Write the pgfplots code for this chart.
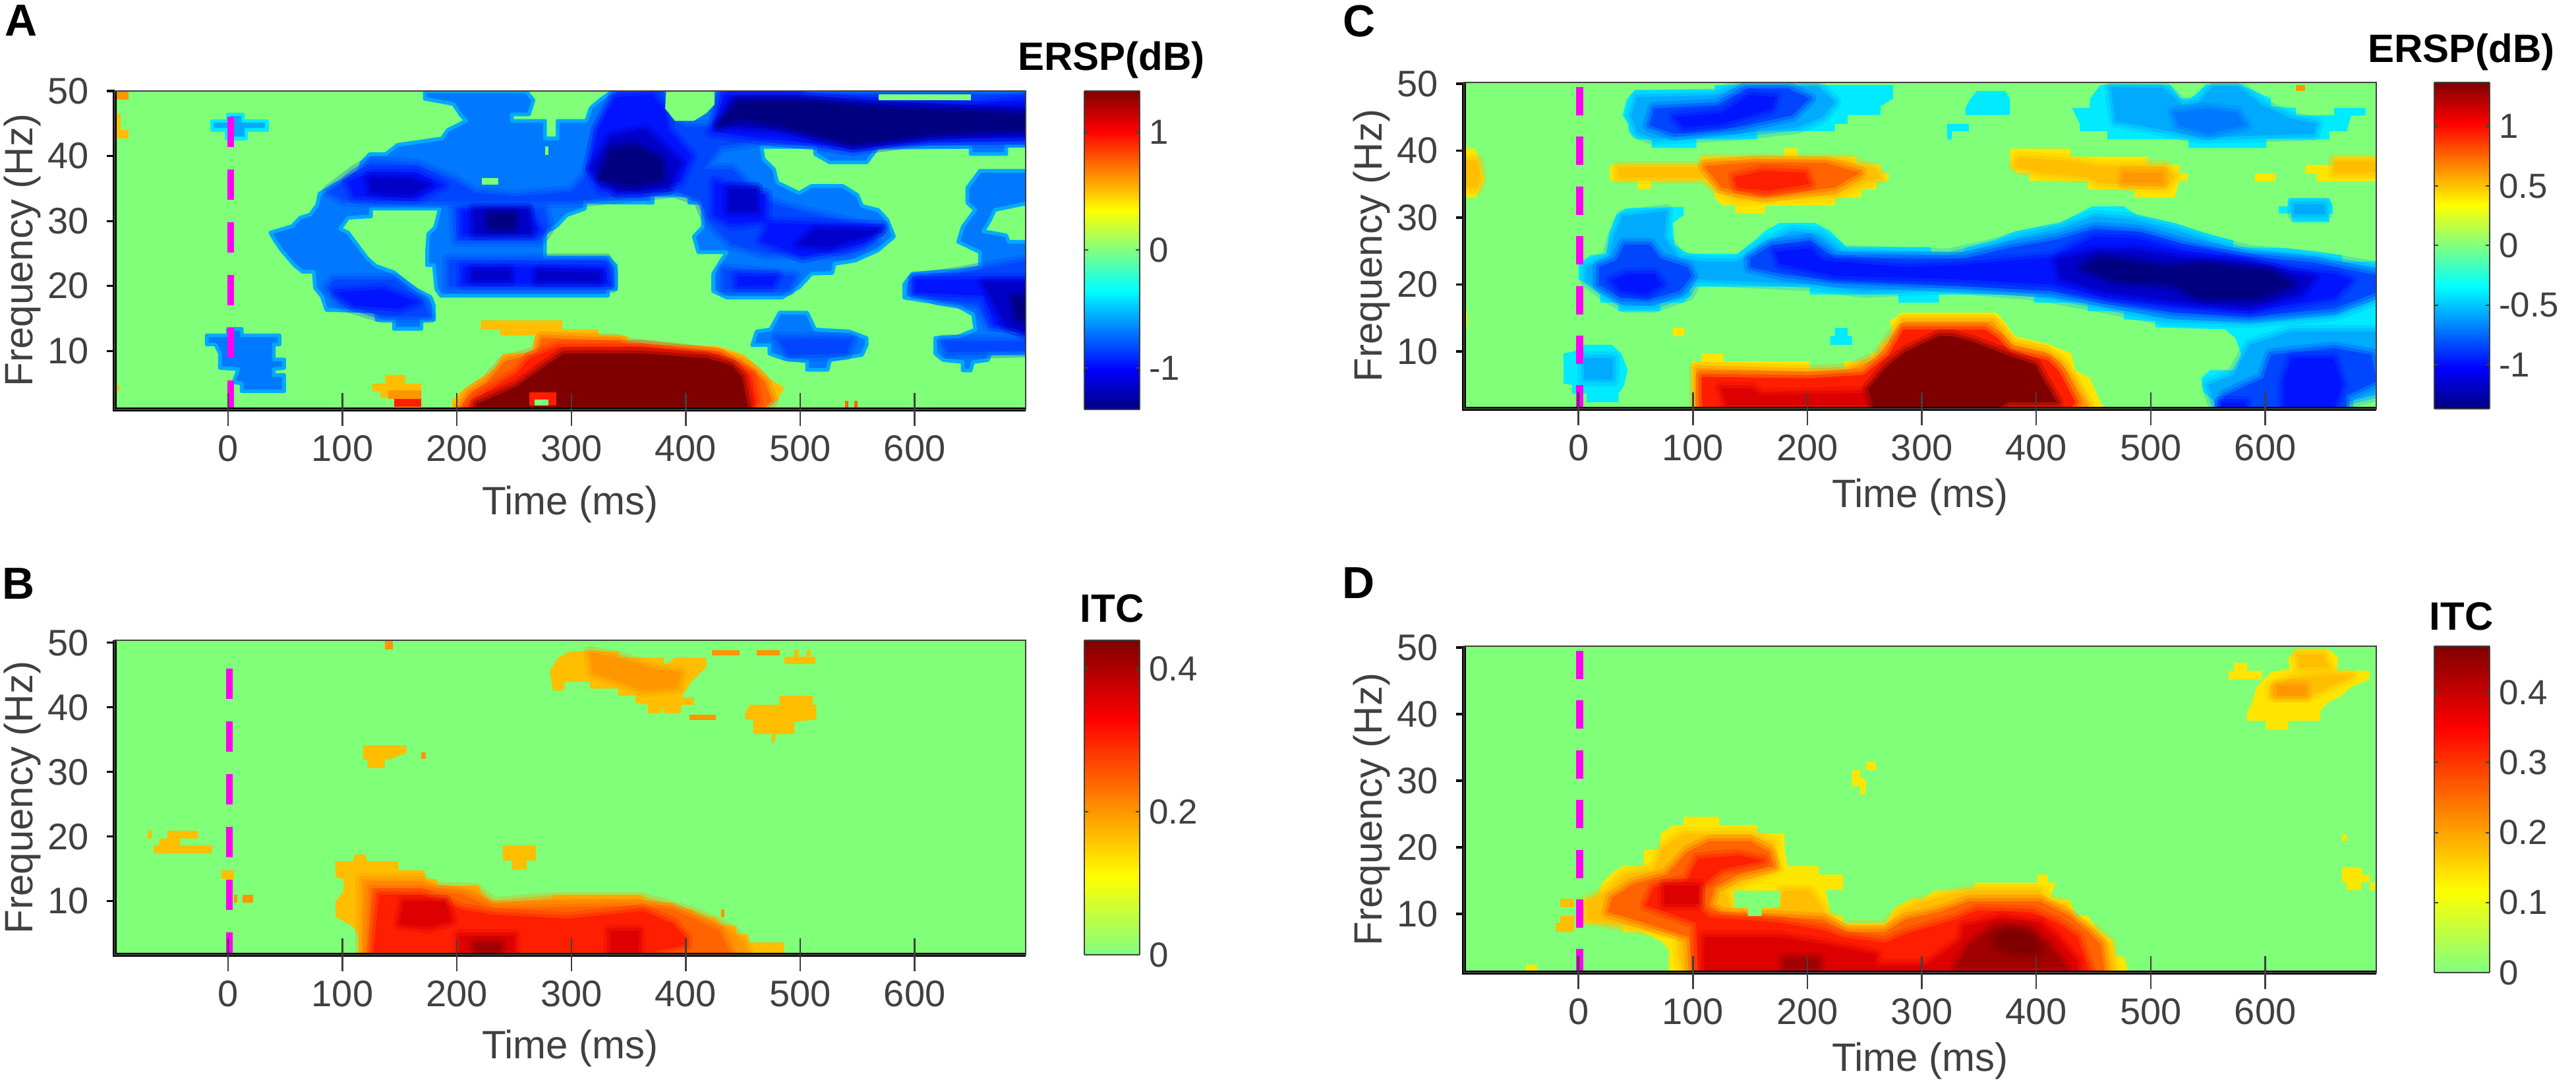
\documentclass[border=0pt]{standalone}
\usepackage{fontspec}
\setmainfont{Liberation Sans}
\usepackage{pgfplots}
\pgfplotsset{compat=1.18}
\definecolor{bg}{RGB}{128,255,120}
\definecolor{b0}{RGB}{0,235,255}
\definecolor{b1}{RGB}{0,170,255}
\definecolor{b2}{RGB}{0,120,255}
\definecolor{b3}{RGB}{0,70,255}
\definecolor{b4}{RGB}{0,20,255}
\definecolor{b5}{RGB}{0,0,200}
\definecolor{b6}{RGB}{0,0,128}
\definecolor{y0}{RGB}{255,230,0}
\definecolor{y1}{RGB}{255,190,0}
\definecolor{o1}{RGB}{255,150,0}
\definecolor{o2}{RGB}{255,100,0}
\definecolor{r1}{RGB}{255,30,0}
\definecolor{r2}{RGB}{220,0,0}
\definecolor{r3}{RGB}{160,0,0}
\definecolor{r4}{RGB}{128,0,0}
\definecolor{lab}{RGB}{64,64,64}
\definecolor{mag}{RGB}{255,0,240}
% hard-edged patch (outer contour or small block)
\newcommand{\Hard}[2]{\addplot[fill=#1,draw=none,forget plot] coordinates {#2} --cycle;}
% hard patch with a thin lighter rim
\newcommand{\PolyE}[3]{\addplot[fill=#1,draw=#2,line width=1.4pt,line join=round,forget plot] coordinates {#3} --cycle;}
% nested level with a soft edge
\newcommand{\Poly}[2]{%
  \addplot[draw=#1,draw opacity=.28,line width=5pt,line join=round,forget plot] coordinates {#2} --cycle;
  \addplot[fill=#1,draw=#1,draw opacity=.45,line width=2.4pt,line join=round,forget plot] coordinates {#2} --cycle;}
\newcommand{\Frame}[1]{%
  \pgfplotsinvokeforeach{10,20,30,40,50}{\draw[black,line width=.8pt] (axis cs:#1,##1) -- ++(-3pt,0pt);}
  \draw[black,line width=1.4pt] (rel axis cs:0,1) -- (rel axis cs:0,0) -- (rel axis cs:1,0);}
\pgfplotsset{
  /pgf/number format/assume math mode=true,
  colormap={ersp}{rgb255(0cm)=(0,0,128);rgb255(1cm)=(0,0,255);rgb255(3cm)=(0,255,255);rgb255(4cm)=(128,255,128);rgb255(5cm)=(255,255,0);rgb255(7cm)=(255,0,0);rgb255(8cm)=(128,0,0)},
  colormap={itc}{rgb255(0cm)=(128,255,128);rgb255(1cm)=(255,255,0);rgb255(3cm)=(255,0,0);rgb255(4cm)=(128,0,0)},
  pan/.style={scale only axis,clip mode=individual,axis on top,anchor=south west,
    axis background/.style={fill=bg},
    tick align=center,major tick length=12.5pt,
    xtick pos=bottom,ytick pos=left,
    xtick={0,100,200,300,400,500,600},ytick={10,20,30,40,50},
    ytick style={draw=none},xtick style={lab,line width=.6pt},
    axis line style={line width=.7pt,color=lab},
    tick label style={font=\fontsize{14}{14}\selectfont,text=lab},
    xlabel={Time (ms)},ylabel={Frequency (Hz)},
    every axis y label/.style={at={(axis description cs:-0.1013,0.5)},rotate=90,anchor=center,font=\fontsize{15}{15}\selectfont,text=lab},
    colorbar sampled},
  xl/.style={every axis x label/.style={at={(axis description cs:0.5,-#1)},anchor=center,font=\fontsize{15}{15}\selectfont,text=lab}},
  cb/.style={at={(parent axis.south east)},anchor=south west,scale only axis,width=21pt,
    samples=160,
    yticklabel pos=right,tick align=inside,major tick length=1.5pt,
    ytick style={lab,line width=.5pt},
    axis line style={line width=.6pt,color=lab},
    yticklabel style={font=\fontsize{13.2}{13.2}\selectfont,text=lab},
    ytick pos=both},
}
\begin{document}
\begin{tikzpicture}[x=1pt,y=1pt]
\useasboundingbox (0,0) rectangle (977,411.75);
% ---------------- A
\begin{axis}[pan,xl=0.298,at={(43.5pt,256.5pt)},width=345.5pt,height=120.75pt,xmin=-99,xmax=697,ymin=1,ymax=50,
  colormap name=ersp,point meta min=-1.35,point meta max=1.35,
  colorbar style={cb,xshift=13.72pt,height=120.75pt,ytick={-1,0,1},yticklabels={-1,0,1}}]
\PolyE{b2}{b1}{(172,50)(260,50)(267,48.6)(263,46.4)(248,46.4)(248,45.4)(277,45.4)(277,42.7)(288,42.7)(288,45.4)(313,45.4)(317,47.4)(325,48.6)(336,50)(700,50)(700,41.6)(680,41.6)(680,40.3)(649,40.3)(649,41.4)(568,41.4)(558,39)(526,39)(513,40.3)(513,41.4)(466,41.4)(468,39.5)(477,38)(480,35.9)(499,34.3)(510,35.4)(537,35.4)(550,34)(554,32.3)(568,31.7)(576,30.2)(582,27.6)(578,27)(568,25.5)(548,23.9)(530,23.4)(528,22)(510,21.9)(499,19.8)(484,18.2)(436,18.2)(424,19.2)(424,21.9)(431,23.9)(436,25.2)(411,25.2)(407,27.6)(415,29.1)(415,32.8)(403,32.8)(403,34)(371,34)(371,32.8)(312,32.9)(312,31.9)(296,30.9)(287,29.2)(277,28.2)(277,24.4)(332,24.4)(339,23.1)(339,19.5)(332,19.5)(332,18.5)(186,18.5)(182,19.5)(180,23.2)(174,23.2)(174,25.45)(175,28)(181,29)(185,31.9)(125,31.9)(125,30.7)(105,30.5)(98,28.8)(105,28.2)(121,24.4)(129,23.1)(145,22.1)(155,20.7)(165,19.4)(177,18.3)(180,17)(180,14.8)(169,14.8)(169,13.4)(145,13.4)(145,14.8)(130,14.8)(129,16.1)(86,16.3)(82,18.4)(76,19.7)(75,22.2)(65,22.2)(58,23.2)(47,25.45)(41,27)(37,28.2)(56,29.2)(63,30.5)(72,31)(78,32.5)(80,34.2)(93,35.6)(113,37)(117,39)(124,40.3)(138,40.3)(148,41.7)(187,42.7)(192,44)(208,45.4)(203,46.4)(197,48)(172,48.8)}
\PolyE{b2}{b1}{(657,37.7)(700,37.7)(700,32.8)(670,31.7)(666,30.2)(660,28.4)(680,27.8)(682,26.8)(700,26.8)(700,9.6)(666,9.6)(664,8.6)(651,8.3)(649,7)(642,7)(642,8.3)(625,8.6)(618,9.6)(618,12)(638,12.2)(653,13.3)(651,15.6)(638,16.9)(591,18.2)(591,20.3)(598,21.9)(638,22.4)(657,22.9)(657,25.2)(638,26.8)(642,29.1)(653,31.7)(646,32.8)(646,35.1)}
\PolyE{b2}{b1}{(482,15.9)(506,15.9)(513,13.3)(543,13)(558,12)(558,10.9)(554,9.4)(526,8.6)(524,7.1)(506,7.1)(506,8.4)(486,8.8)(473,9.6)(473,10.9)(458,10.9)(462,13)(474,13.3)}
\PolyE{b1}{b0}{(-14,45.4)(0,45.4)(0,46.4)(13,46.4)(13,45.4)(34,45.4)(34,44)(16,44)(16,42.7)(-1,42.7)(-1,44)(-14,44)}
\PolyE{b2}{b1}{(-18.5,12.4)(0,12.4)(0,13.4)(12,13.4)(12,12.4)(45,12.4)(45,11)(40,11)(40,8.7)(49,8.7)(49,7.4)(40,7.2)(40,6.3)(49,6.3)(49,3.8)(12,3.8)(12,5)(5,5.2)(9,7.2)(-7,7.4)(-7,9.6)(-11,11)(-18.5,11)}
\Poly{b3}{(88,34.5)(110,37.5)(125,39)(165,38.6)(195,36.5)(215,34.4)(250,33.8)(300,34.5)(318,38)(322,44)(340,49.9)(381,49.9)(383,46)(400,44.5)(425,44.5)(430,49.9)(700,49.5)(700,42.3)(600,42)(540,41.8)(470,42.5)(430,41.5)(415,38)(440,38)(470,33)(500,31.5)(560,29)(565,27)(540,25)(470,25)(440,26.5)(420,30)(412,33.3)(390,34.6)(300,33)(120,33)(100,33.3)}
\Poly{b3}{(198,32)(276,32)(280,29)(272,27)(200,27)}
\Poly{b3}{(193,24)(330,24)(335,22)(335,19.9)(193,19.9)}
\Poly{b3}{(93,21)(145,21)(170,17.7)(176,15.3)(135,15.3)(99,17.3)(87,19.7)}
\Poly{b3}{(600,21)(640,22)(700,24)(700,14)(665,14)(655,17)(620,18)(600,19.5)}
\Poly{b3}{(625,11.5)(700,11.5)(700,10)(630,9.8)}
\Poly{b3}{(480,12)(545,11.8)(540,9.6)(490,9.3)}
\Poly{b3}{(433,22.5)(495,21.5)(490,19.5)(433,19.5)}
\Poly{b4}{(433,49.4)(499,49.4)(503,48.6)(576,48.4)(649,47.9)(700,48.9)(700,42.7)(613,42.7)(546,41)(513,41.9)(466,42.7)(422,43.7)(429,46.8)}
\Poly{b4}{(323,44)(338,49)(370,49.5)(382,47)(385,44)(405,40)(395,36)(360,34.5)(325,35)(315,38)}
\Poly{b4}{(105,36)(125,37.5)(165,37.5)(188,35.5)(165,33.5)(110,33.8)}
\Poly{b4}{(205,31.5)(262,31.5)(272,28.5)(205,28)}
\Poly{b4}{(205,23)(329,22.8)(332,20.4)(205,20.4)}
\Poly{b4}{(425,36)(470,34)(470,30)(440,29.5)(425,31)}
\Poly{b4}{(473,29.7)(572,29.1)(554,26.5)(502,24.5)(466,27)}
\Poly{b4}{(445,21.5)(480,21.5)(475,20)(445,20)}
\Poly{b4}{(600,21)(700,21)(700,13)(670,14)(660,18.5)(600,19)}
\Poly{b4}{(95,19)(135,19.5)(165,17.5)(150,16.5)(110,17)}
\Poly{b5}{(318,38)(335,43)(365,44)(395,39)(385,35)(340,34.5)}
\Poly{b5}{(123,36.6)(160,36.5)(175,35.5)(160,34)(125,34.5)}
\Poly{b5}{(215,31.8)(262,31.8)(265,28)(215,28)}
\Poly{b5}{(214,22.4)(246,22.4)(246,21)(214,21)}
\Poly{b5}{(270,22.3)(325,22)(325,20.8)(270,20.8)}
\Poly{b5}{(438,35)(462,35)(462,31.5)(438,31.5)}
\Poly{b5}{(513,28.6)(569,28.5)(525,26)(499,26.5)}
\Poly{b5}{(660,20.5)(700,20.5)(700,12.5)(680,14)}
\Poly{b5}{(440,48.9)(500,48.9)(576,47.9)(649,47.4)(700,47.4)(700,43.4)(613,43)(546,41.5)(484,44)(429,44.7)}
\Poly{b6}{(447,48.4)(502,48.4)(576,47.3)(649,46.8)(700,46.3)(700,44)(668,44)(613,43.4)(546,41.9)(517,43.2)(484,44.7)(447,45.8)(429,44.7)}
\Poly{b6}{(325,36.5)(335,41)(355,41.5)(378,39.5)(380,36.5)(355,35.5)}
\Poly{b6}{(228,31)(250,31)(250,29)(228,29)}
\Poly{b6}{(686,18.2)(700,18.2)(700,14.5)(690,15)}
\Hard{bg}{(383,50.5)(425,50.5)(425,47.9)(418,46.6)(407,45.4)(390.6,45.4)(382,47.3)}
\Hard{bg}{(568.6,49.5)(649,49.5)(649,48.6)(568.6,48.6)}
\Hard{bg}{(222,36.6)(236,36.6)(236,35.6)(222,35.6)}
\Hard{bg}{(277,41.5)(280,41.5)(280,40.2)(277,40.2)}
\Hard{y1}{(221,14.7)(292,14.7)(292,13.3)(324,13.3)(324,12.4)(349,12.3)(349,11.1)(429,10.7)(451,9.4)(458,8.3)(466,7)(473,5.7)(486,4.4)(480,2.3)(469,2.3)(469,1)(196,1)(196,2.5)(202,3.5)(210,4.6)(224,6.2)(233,7.2)(240.5,9.6)(265.5,9.7)(268.5,12.4)(238,12.4)(238,13.3)(221,13.3)}
\Poly{o2}{(202,1)(211,3.5)(226,5.2)(242,8.4)(270,9.7)(274,12)(341,11.6)(349,11)(425,9.6)(447,8.3)(460,6.8)(469,5.2)(475,2.3)(468,1)}
\Poly{r1}{(208,1)(217,2.8)(252,6.5)(264,8.9)(288,10.6)(361,10.7)(429,9.4)(444,7.8)(457,6.2)(462,2.1)(457,1)}
\Poly{r4}{(217,1)(217,1.8)(252,4.5)(279,7.9)(293.5,9.6)(361,9.6)(418,8.9)(440,7.8)(449,6)(455,1)}
\Hard{r1}{(263,3.6)(287,3.6)(287,1.6)(263,1.6)}
\Hard{bg}{(268,2.5)(280,2.5)(280,1.6)(268,1.6)}
\Hard{y1}{(137.5,6.3)(155,6.3)(155,5)(169,5)(169,1.6)(145,1.6)(145,2.8)(133,2.8)(133,3.8)(126,3.8)(126,5)(137.5,5)}
\Hard{o1}{(140,3.9)(169,3.9)(169,2.6)(140,2.6)}
\Hard{r1}{(145,2.6)(169,2.6)(169,1.4)(145,1.4)}
\Hard{o2}{(539,1)(542,1)(542,2.3)(539,2.3)}
\Hard{o2}{(547,1)(550,1)(550,2.3)(547,2.3)}
\Hard{o1}{(-99,50)(-87,50)(-87,48.7)(-99,48.7)}
\Hard{y1}{(-99,44)(-87,44)(-87,42.7)(-99,42.7)}
\Hard{y1}{(-99,46.4)(-94,46.4)(-94,44)(-99,44)}
\Hard{y1}{(-99,4.8)(-95,4.8)(-95,3.8)(-99,3.8)}
\addplot[mag,line width=2.5pt,dash pattern=on 11.5pt off 8.5pt,forget plot] coordinates {(2.5,46)(2.5,1)};
\Frame{-99}
\end{axis}
% ---------------- B
\begin{axis}[pan,xl=0.298,at={(43.5pt,49.75pt)},width=345.5pt,height=119.25pt,xmin=-99,xmax=697,ymin=1.7,ymax=50.4,
  colormap name=itc,point meta min=0,point meta max=0.44,
  colorbar style={cb,xshift=13.72pt,height=119.25pt,ytick={0,0.2,0.4},yticklabels={0,0.2,0.4}}]
\Hard{y1}{(93.6,16.2)(110,16.2)(110,17.2)(121,17.2)(121,16.2)(149,16.2)(149,14.8)(172,14.8)(172,13.4)(183,13.4)(183,12.4)(220,12.4)(220,11)(229,9.8)(284,9.8)(284,11)(363,11)(363,9.8)(389,9.8)(389,8.7)(407,8.7)(407,7.5)(427,7.5)(427,6.2)(444,6.2)(444,4.9)(455,4.9)(455,3.6)(486,3.6)(486,1.7)(114,1.7)(114,4.9)(108,6.2)(94,7.6)(94,8.7)(94,10)(101,11.5)(101,13.4)(94,13.7)}
\Poly{o1}{(117,1.7)(117,13.4)(169,13.4)(180,12)(216.5,11.8)(231,9.6)(283,10.4)(359,10.4)(389,9)(405,8.2)(425,6.8)(440,5.4)(451,3.5)(455,1.7)}
\Poly{o2}{(123,1.7)(125,12)(169,12)(205,11)(231,9)(279,9)(352,9.3)(389,8.7)(407,7.3)(429,5.4)(440,1.7)}
\Poly{r1}{(127,2.1)(132,11)(169,11)(205,8.7)(231,7.9)(297,7.3)(363,8.5)(389,6.5)(400,4.3)(400,3.2)(370,2.1)}
\Poly{r2}{(154,10)(190,10)(195,7)(175,6)(150,6.5)}
\Poly{r2}{(202,4.7)(250,4.7)(250,2.2)(202,2.2)}
\Poly{r2}{(334,5.4)(359,5.4)(359,2.1)(334,2.1)}
\Poly{r3}{(216,3.5)(238,3.5)(238,2.2)(216,2.2)}
\Hard{y1}{(281,45.6)(288,47.6)(299,48.7)(341,48.7)(341,47.7)(381,47.7)(381,46.5)(391,47.7)(418,47.7)(418,46.2)(413,45.4)(405,44)(400,42.6)(396,41.5)(407,41.5)(407,40.4)(396,40.4)(396,39.1)(381,39.1)(379,40)(378,39.1)(367,39.1)(367,40.4)(356,40.7)(356,41.8)(341,41.8)(341,42.9)(316,42.9)(316,44)(295,44)(293,42.6)(284,42.6)}
\Poly{o1}{(316,48.5)(341,47.7)(374,45.9)(396,45.4)(392,43.1)(363,42.6)(345,43.8)(319,45.4)}
\Hard{o1}{(403,38.9)(426,38.9)(426,38)(403,38)}
\Hard{o1}{(423,48.9)(447,48.9)(447,48)(423,48)}
\Hard{o1}{(462,48.9)(482,48.9)(482,48)(462,48)}
\Hard{y1}{(486,47.8)(513,47.8)(513,46.7)(486,46.7)}
\Hard{y1}{(495,48.9)(499,48.9)(499,47.8)(495,47.8)}
\Hard{y1}{(506,48.9)(509,48.9)(509,47.8)(506,47.8)}
\Hard{y1}{(482,41.8)(511,41.8)(511,40.4)(514,40.4)(514,38.1)(495,37.8)(495,35.9)(479,35.9)(477,34.5)(475,34.5)(475,35.9)(459,35.9)(459,38.1)(452,38.1)(452,39.1)(456,40.4)(482,40.4)}
\Hard{y1}{(118,34.1)(156,34.1)(156,33)(141,31.9)(137,31.9)(137,30.6)(122,30.6)(122,31.9)(118,32)}
\Hard{o1}{(169,33)(173,33)(173,32)(169,32)}
\Hard{o1}{(137,50.4)(144,50.4)(144,49)(137,49)}
\Hard{y1}{(-70,21)(-66.5,21)(-66.5,19.7)(-70,19.7)}
\Hard{y1}{(-53,20.9)(-26,20.9)(-26,19.7)(-42,19.7)(-42,18.6)(-14,18.6)(-14,17.4)(-65,17.4)(-65,18.6)(-60,18.6)(-60,19.7)(-53,19.7)}
\Hard{y1}{(240,18.6)(269,18.6)(269,16.3)(261,16.3)(261,14.9)(248,14.9)(248,16.3)(240,16.3)}
\Hard{y1}{(-5.5,14.8)(5.5,14.8)(5.5,13.4)(-5.5,13.4)}
\Hard{o1}{(5.5,11)(8.4,11)(8.4,9.8)(5.5,9.8)}
\Hard{o1}{(13,11)(22,11)(22,9.8)(13,9.8)}
\Hard{o1}{(431,8.7)(433.5,8.7)(433.5,7.5)(431,7.5)}
\addplot[mag,line width=2.5pt,dash pattern=on 11.5pt off 8.5pt,forget plot] coordinates {(1,46)(1,1.7)};
\Frame{-99}
\end{axis}
% ---------------- C
\begin{axis}[pan,xl=0.271,at={(555.25pt,256.75pt)},width=346pt,height=123.75pt,xmin=-100,xmax=697,ymin=1.43,ymax=50.2,
  colormap name=ersp,point meta min=-1.37,point meta max=1.37,
  colorbar style={cb,xshift=13.47pt,height=123.75pt,ytick={-1,-0.5,0,0.5,1},yticklabels={-1,-0.5,0,0.5,1}}]
\Hard{b0}{(49.5,49.1)(119,49.1)(119,49.8)(275,49.8)(275,47.8)(264,46.6)(264,45.3)(235,45.3)(235,44)(224,44)(224,42.9)(156,42.9)(156,41.7)(103,41.7)(103,40.4)(64,40.4)(64,41.7)(51,41.7)(44,42.8)(44,44)(38.5,45.3)(42,47.6)}
\Poly{b1}{(51,48)(119,48.3)(139,49.6)(209,49.6)(224,47.3)(213,45)(191,43.5)(139,42.5)(66,41.8)(51,42.8)(46,45.3)}
\Poly{b3}{(66,46.3)(121,46.8)(147,49.3)(183,49.3)(202,47.8)(187,45.3)(139,43.5)(84,42.5)(62,43.8)}
\Poly{b4}{(84,45)(125,45.6)(150,48.3)(172,48)(169,46.3)(125,44)(92,43.5)}
\Hard{y0}{(27.5,37.9)(107,37.9)(107,39.1)(180,39.1)(180,40.4)(191,40.4)(191,39.1)(243,39.1)(243,37.9)(264,37.9)(264,36.6)(271,36.6)(271,35.5)(260,35.5)(260,34.2)(247.5,34.2)(247.5,33)(224,33)(224,31.8)(163,31.8)(163,30.6)(137,30.6)(137,31.8)(126,31.8)(119,33)(119,34.2)(110,35.5)(63,35.5)(63,34.2)(52,34.2)(52,35.5)(27.5,35.5)}
\Poly{y1}{(35,37.5)(110,37.5)(110,38.6)(233,38.6)(260,37.2)(264,36)(242,34.7)(224,33.4)(139,32.7)(121,34.2)(110,36)(35,36)}
\Poly{o2}{(110,37.7)(154,38.3)(216,38.2)(246,36.7)(224,34.5)(161,33.2)(125,34.5)}
\Poly{r1}{(136,36)(161,37)(198,36.7)(202,35)(165,34)(139,34.5)}
\Hard{y0}{(-100,41.5)(-97,40.3)(-90,40.3)(-86,37.7)(-82,36)(-86,34.2)(-90,33)(-100,33)}
\Poly{y1}{(-100,38.5)(-88,38.5)(-86,36)(-88,34.5)(-100,34.5)}
\Hard{y0}{(-100,16)(-97,16)(-97,13.5)(-100,13.5)}
\Hard{b0}{(0,23.1)(11,24.4)(24,24.6)(27,27.7)(33,30.4)(42,31.4)(92,31.6)(92,30.4)(82.5,29.2)(84,25.9)(96,24.6)(139,24.6)(156,26.9)(163,28)(176,29.2)(207,29.2)(220,28)(234,25.6)(308,25.6)(308,24.7)(337,24.7)(337,25.5)(363,26.6)(381,27.9)(421,29.2)(434,30.4)(449,31.7)(476,31.7)(487.5,30.4)(520.5,29.2)(543,27.9)(572,26.6)(572,25.6)(620,25.4)(667,24.4)(667,23.4)(700,23.4)(700,3.7)(685,3.7)(671,2.4)(671,1.4)(557,1.4)(557,2.4)(546,3.9)(544,6)(552,7.2)(574,7.2)(579,9.5)(574,12)(565,13.3)(504,13.6)(504,14.5)(476.5,14.8)(476.5,16)(445,16)(445,17.3)(398,17.3)(398,18.5)(315,18.5)(315,17.3)(279.5,17.3)(279.5,18.5)(202,18.5)(202,19.7)(95,19.7)(99,18.6)(92,17.3)(71.5,17.3)(71.5,16)(35,16)(35,17.3)(19,17.3)(19,18.6)(11,19.7)(0,20.8)}
\Poly{b1}{(7,22.6)(26,24.1)(31,27.1)(38.5,30.2)(77,31)(75,27)(88,24)(110,23.4)(139,23.4)(161,26)(187,28)(209,27.6)(231,24.9)(323,24.4)(363,25.9)(385,27.1)(421.5,28.4)(451,30.2)(484,29.7)(520.5,28.2)(557,26.2)(586.6,24.9)(641.6,24.1)(700,22.4)(700,18)(660,15.5)(586.6,14.5)(513,14.8)(451,17)(399,18.6)(330,19.6)(249,19)(203,20)(103,20.8)(96,18.6)(66,16.8)(40,16.8)(22,18.6)(7,20.6)}
\Poly{b3}{(18,22.6)(33,23.6)(40,26)(62,26)(71.5,23.9)(95,22.6)(99,21.3)(88,19)(62,17.8)(37,18)(18,20)}
\Poly{b3}{(150,23.9)(169,25.9)(202,26.6)(224,24)(337,23.9)(377,25.5)(418,26.7)(451,28.4)(491,27.9)(528,26.1)(579,24.3)(642,23.3)(700,21.3)(700,19)(660,16.4)(586.6,15.2)(520.5,15.8)(458,17.6)(414,19)(330,19.8)(224,20.6)(176,21.6)(150,22.6)}
\Poly{b4}{(29,20.6)(44,21.6)(66,21.6)(73,20)(59,18.6)(37,19.1)}
\Poly{b4}{(172,24.9)(202,25.4)(213,23.6)(286,22.6)(330,22.9)(414,24.1)(451,27.1)(487.5,26.9)(528,25.1)(579,23.9)(623,22.1)(660,21.6)(675,20.6)(660,18)(586.6,16)(520.5,16.8)(462,18)(414,20)(330,20.8)(224,21.3)(176,23.1)}
\Poly{b5}{(418,23.6)(451,25)(487.5,25)(528,24)(586.6,23)(642,21)(631,18.6)(586.6,16.6)(520.5,17.6)(458,19)(421.5,21)}
\Poly{b6}{(440,22.6)(458,24)(513,22.6)(550,23)(605,22)(623,20)(594,18)(542.5,18)(520.5,20)(469,20.6)}
\Poly{b1}{(586.6,11)(623,13)(697,13)(700,3.7)(671,2.4)(671,1.4)(557,1.4)(550,5)(572,6.5)}
\Poly{b3}{(605,9.5)(660,10.5)(693,9.5)(697,5.5)(671,3.4)(671,1.4)(561,1.4)(564.6,3.4)(598,6)}
\Poly{b4}{(623,9)(660,9)(667,5)(660,1.4)(616,1.4)(616,5.5)}
\Poly{b4}{(561,2.4)(583,2.4)(583,1.4)(561,1.4)}
\Hard{b0}{(5.5,11)(29,11)(37.5,9.7)(43,7.2)(40,5)(35,3.7)(35,2.4)(7,2.4)(7,3.7)(-5.5,3.7)(-5.5,5)(-13,5.2)(-13,9.7)(-4,10)}
\Poly{b1}{(5,9)(30,9)(30,5.8)(5,5.8)}
\Hard{b0}{(348,48.9)(373,48.9)(377,47.8)(377,45.3)(338,45.3)(338,46.4)(342.5,47.8)}
\Hard{b0}{(322,44)(341,44)(341,42.9)(326,42.9)(326,41.7)(322,41.7)}
\Hard{b0}{(456,49.8)(517,49.8)(526,47.8)(535,47.8)(548,49.8)(579,49.8)(605,47.8)(605,46.6)(627,46.4)(627,45.3)(660,45.3)(660,46.4)(687.5,46.4)(687.5,45.3)(675,45.2)(671,42.9)(656,42.9)(656,41.7)(601,41.7)(601,40.4)(533,40.4)(533,41.7)(462,41.7)(462,42.9)(438,42.9)(438,44)(431,46.4)(446.5,46.4)(447,47.8)}
\Poly{b1}{(465,49.5)(511,49.4)(528,46.8)(542.5,47.3)(554,49.6)(576,49.6)(597.6,46.8)(623,44.8)(645,44)(642,42.5)(542.5,42)(513,43)(469,44.4)}
\Poly{b2}{(520,45.7)(550,46.3)(575.6,45.7)(583,43.8)(550,42.5)(524,43.8)}
\Hard{y0}{(377,40.3)(429.5,40.3)(429.5,39.1)(497,39.1)(497,37.9)(525,37.9)(525,36.6)(532,36.6)(532,35.5)(525,35.5)(521,33)(485.7,33)(485.7,34.2)(445,34.2)(445,35.5)(394,35.5)(394,36.7)(383,36.7)(377,37.9)}
\Poly{y1}{(385,39)(425,38.5)(454,37.7)(513,37.7)(520.5,36.2)(513,34.5)(454,35.2)(447,36)(403,36.7)(381,37.7)}
\Poly{o1}{(476,36.7)(510,36.7)(510,35.2)(476,35.2)}
\Hard{y0}{(635,37.9)(660,37.9)(660,39.1)(700,39.1)(700,35.4)(645,35.4)(645,36.6)(635,36.6)}
\Poly{y1}{(660,38.5)(700,38.5)(700,36.7)(660,36.7)}
\Hard{y0}{(591,36.6)(608.6,36.6)(608.6,35.4)(591,35.4)}
\Hard{o1}{(627,49.8)(635,49.8)(635,48.9)(627,48.9)}
\Hard{y0}{(82.5,13.5)(92.4,13.5)(92.4,12.3)(82.5,12.3)}
\Hard{b0}{(224,13.5)(235,13.5)(235,12.3)(239,12.3)(239,11)(220,11)(220,12.3)(224,12.3)}
\Hard{b0}{(620,32.9)(656,32.9)(659,31.7)(659,30.6)(656,30.6)(656,29.3)(623,29.3)(623,30.6)(612,30.6)(612,31.7)(620,31.7)}
\Poly{b1}{(625,32)(652,32)(652,30.5)(625,30.5)}
\Hard{y0}{(99,1.4)(99,8.5)(108,8.5)(108,9.7)(126.5,9.7)(126.5,8.5)(202,8.5)(202,7.2)(232,7.2)(232,8.5)(255,8.5)(255,9.7)(264,9.7)(264,11)(276,12)(272,14.5)(283,15.8)(364.6,15.8)(372,14.5)(381,12.3)(412,11)(430.6,9.7)(434,7.2)(447,6)(456,2.4)(460,1.5)(460,1.4)}
\Poly{o1}{(102.7,1.4)(102.7,7.5)(201.7,7)(234.7,7.2)(260,9)(273,12)(284,14.5)(361,14.5)(368,13.3)(379,11)(407,10)(421,8.5)(431,6)(445,1.9)(445,1.4)}
\Poly{r1}{(108,1.4)(108,6.2)(202,6)(249,6.5)(271,9.5)(284,13.3)(355,13.3)(366,12)(377,10)(410,8.7)(420,7)(434,2.4)(430,1.4)}
\Poly{r2}{(125,4.5)(150,4.5)(160,3.5)(250,3.8)(255,2)(130,2)}
\Poly{r4}{(253,4.4)(268,7.5)(286,10)(315,12.3)(326,12.3)(344,11.5)(374,9.5)(399,8)(407,5.5)(418,2.4)(375.6,2.4)(365,1.4)(258,1.4)}
\addplot[mag,line width=2.7pt,dash pattern=on 10.75pt off 8.1pt,forget plot] coordinates {(1,49.5)(1,1.43)};
\Frame{-100}
\end{axis}
% ---------------- D
\begin{axis}[pan,xl=0.271,at={(555.25pt,43pt)},width=346pt,height=123.75pt,xmin=-100,xmax=697,ymin=1.2,ymax=50.2,
  colormap name=itc,point meta min=0,point meta max=0.466,
  colorbar style={cb,xshift=13.47pt,height=123.75pt,ytick={0,0.1,0.2,0.3,0.4},yticklabels={0,0.1,0.2,0.3,0.4}}]
\Hard{y0}{(79,1.2)(79,4.7)(71.5,6)(55,7.3)(38.5,7.3)(38.5,8.6)(4.4,8.6)(4.4,12.4)(16.5,12.4)(20,14.5)(27.5,15.9)(38.5,17.2)(57,17.2)(57,19.6)(71.5,19.6)(71.5,22)(82.5,23.3)(92,23.3)(92,24.6)(123,24.6)(123,23.3)(156,23.3)(156,22.1)(180,22.1)(180,19.6)(183,17.2)(210,17.2)(210,15.9)(231,15.9)(231,13.6)(216,13.6)(220,10)(231,9.7)(231,8.6)(268,8.6)(277,11)(293,12.4)(300,12.1)(311,13.5)(346,13.6)(346,14.7)(401,14.7)(401,15.9)(410,15.9)(410,14.7)(417,14.7)(412,12.4)(429.5,12.1)(434,9.7)(445,9.7)(454.5,7.3)(467,6)(469,3.6)(476.5,3.6)(481,1.2)}
\Poly{y1}{(92,1.2)(88,3.9)(88,7)(47.7,8.1)(7,9.2)(7,11.9)(25.7,13.5)(40,15.9)(66,16.7)(73,19.9)(92,22)(150,22)(170,20.7)(174,16.7)(139,14.5)(128,13.5)(134,10.5)(161,10.5)(176,11)(178,13.5)(202,13.5)(216,10)(231,8.1)(268,8.1)(280.5,10.3)(297,11.6)(315,12.4)(341,13.5)(403,13.5)(410,11.9)(425,11.3)(434,8.7)(451,7.6)(464,5.5)(469,1.2)}
\Poly{o2}{(99,1.2)(97,6.5)(47.7,9.2)(25.7,10.3)(29,12.4)(47.7,14.5)(77,15.9)(95,19.3)(114,20.9)(150,20.9)(167,19.3)(170.5,17.2)(139,15.9)(119,14)(114,11.3)(125,10)(213,9.2)(235,7.3)(268,7.3)(286,9.2)(315,10.3)(341,11.9)(403,11.9)(429,9.7)(443.5,7.6)(456,5.5)(460,1.2)}
\Poly{r1}{(104.5,1.2)(102.7,8.7)(59,11.3)(66,14)(95,15)(104.5,18.3)(139,18.8)(161,18)(125,16.7)(106,14)(102.7,11.3)(114,9.5)(176,8.7)(213,7.6)(231,6.5)(268,5.7)(286,7)(330,9.2)(348,10.5)(396,10.3)(418,8.7)(436,6.5)(447,1.2)}
\Hard{o2}{(264,2.3)(293,2.3)(293,1.2)(264,1.2)}
\Poly{r2}{(110,1.2)(110,6.5)(176,6.5)(213,5.5)(260,3.9)(260,2.3)(304,2.3)(334,6)(337,8.1)(370,9.5)(403,8.7)(418,6.5)(436,2.8)(436,1.2)}
\Poly{r2}{(75,14.3)(105,14.3)(105,11.5)(75,11.5)}
\Poly{r3}{(180,3.3)(210,3.3)(210,1.8)(180,1.8)}
\Poly{r3}{(341,5.2)(363,8.1)(392,8.1)(410,5.5)(425,2)(330,2)}
\Poly{r4}{(363,6.5)(377,7.6)(396,6.5)(403,4.4)(385,4.1)(366,5)}
\Hard{bg}{(136,13.5)(176,13.5)(176,11)(160,11)(160,9.7)(148,9.7)(148,11)(136,11)}
\Hard{y1}{(-16,12.3)(-3.6,12.3)(-3.6,11)(-16,11)}
\Hard{y1}{(-16,9.7)(-3.6,9.7)(-3.6,7.3)(-20,7.3)(-20,8.6)(-16,8.6)}
\Hard{y0}{(-46,2.4)(-36,2.4)(-36,1.2)(-46,1.2)}
\Hard{y0}{(251,32.9)(260,32.9)(260,31.6)(251,31.6)}
\Hard{y0}{(239,31.6)(246,31.6)(246,30.5)(251,30.2)(251,28)(246,28)(246,29.2)(239,29.2)}
\Hard{y0}{(628,49.7)(656,49.7)(664,48.4)(662,46.5)(691,46.5)(691,45.2)(675,44.1)(667,42.8)(654.5,41.7)(648,40.4)(648,39)(620,39)(620,37.7)(600.5,37.7)(600.5,39)(584,39)(584,40.2)(588.4,41.7)(592,43.9)(605,46.3)(621.5,46.8)(620,48.4)}
\Hard{y0}{(568,46.5)(573,46.5)(573,47.7)(584,47.7)(584,46.5)(597,46.5)(597,45.2)(568,45.2)}
\Poly{y1}{(605,44)(623,45.4)(660,46)(675,45.7)(653,43.9)(638,42.8)(605,42.8)}
\Poly{y1}{(628,49)(650,49)(655,47)(630,47)}
\Poly{o1}{(610,44.3)(635,44.3)(635,42.8)(610,42.8)}
\Hard{y0}{(667,22)(671,22)(671,20.9)(667,20.9)}
\Hard{y0}{(667,17)(684,17)(684,15.9)(691,15.9)(691,14.8)(684,14.8)(684,13.6)(671,13.6)(671,14.8)(667,14.8)}
\Hard{y0}{(691,14.8)(695.6,14.8)(695.6,13.6)(691,13.6)}
\addplot[mag,line width=2.7pt,dash pattern=on 10.75pt off 8.1pt,forget plot] coordinates {(1,49.5)(1,1.2)};
\Frame{-100}
\end{axis}
% ---------------- captions
\node[font=\fontsize{15}{15}\selectfont\bfseries] at (421.5pt,389pt) {ERSP(dB)};
\node[font=\fontsize{15}{15}\selectfont\bfseries] at (421.75pt,181pt) {ITC};
\node[font=\fontsize{15}{15}\selectfont\bfseries] at (933.5pt,392pt) {ERSP(dB)};
\node[font=\fontsize{15}{15}\selectfont\bfseries] at (933.5pt,178pt) {ITC};
\node[font=\fontsize{17}{17}\selectfont\bfseries] at (8pt,404pt) {A};
\node[font=\fontsize{17}{17}\selectfont\bfseries] at (7pt,190.5pt) {B};
\node[font=\fontsize{17}{17}\selectfont\bfseries] at (515.5pt,403.75pt) {C};
\node[font=\fontsize{17}{17}\selectfont\bfseries] at (515.25pt,190.75pt) {D};
\end{tikzpicture}
\end{document}
